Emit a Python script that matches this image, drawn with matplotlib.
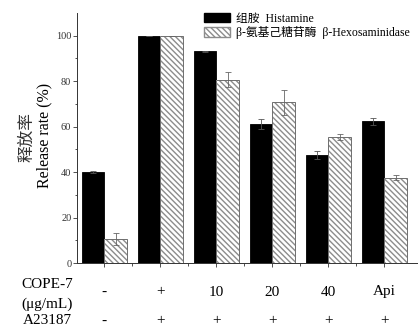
import matplotlib.pyplot as plt
import numpy as np

# data
groups = ["-", "+", "10", "20", "40", "Api"]
a23187 = ["-", "+", "+", "+", "+", "+"]
histamine = [40.0, 100.0, 93.1, 61.1, 47.6, 62.4]
histamine_err = [0.3, 0.0, 0.3, 2.3, 1.8, 1.5]
hexosaminidase = [10.5, 100.0, 80.6, 70.6, 55.4, 37.6]
hexosaminidase_err = [2.5, 0.0, 3.3, 5.3, 1.2, 1.3]

serif = ['Liberation Serif', 'DejaVu Serif']
cjk = ['Liberation Serif', 'Noto Sans CJK SC', 'DejaVu Sans']

fig = plt.figure(figsize=(4.18, 3.30), dpi=100)
ax = fig.add_axes([0.184, 0.203, 0.816, 0.758])

x = np.arange(len(groups))
w = 0.4

ax.bar(x - w / 2, histamine, w, color='black', edgecolor='black', linewidth=0.6, zorder=2)
ax.errorbar(x - w / 2, histamine, yerr=histamine_err, fmt='none', ecolor='#555555',
            elinewidth=0.6, capsize=2, capthick=0.6, zorder=3)

# hatched bars: hatch pass then outline pass
ax.bar(x + w / 2, hexosaminidase, w, color='white', edgecolor='#8c8c8c', hatch='\\\\\\\\\\\\',
       linewidth=0, zorder=2)
ax.bar(x + w / 2, hexosaminidase, w, fill=False, edgecolor='#6e6e6e', linewidth=0.7, zorder=2)
ax.errorbar(x + w / 2, hexosaminidase, yerr=hexosaminidase_err, fmt='none', ecolor='#666666',
            elinewidth=0.6, capsize=2, capthick=0.6, zorder=3)

ax.set_xlim(-0.49, 5.6)
ax.set_ylim(0, 110)
ax.set_yticks([0, 20, 40, 60, 80, 100])
ax.set_yticks(np.arange(10, 110, 20), minor=True)
ax.set_xticks(x)
ax.set_xticks(x[:-1] + 0.5, minor=True)
ax.set_xticklabels([])
for lab in ax.get_yticklabels():
    lab.set_fontfamily(serif)
    lab.set_fontsize(7.5)
    lab.set_color('#333333')
ax.tick_params(axis='both', which='major', length=3, width=0.6, pad=1, direction='out',
               color='#333333')
ax.tick_params(axis='both', which='minor', length=1.8, width=0.6, direction='out',
               color='#333333')

for s in ['top', 'right']:
    ax.spines[s].set_visible(False)
for s in ['left', 'bottom']:
    ax.spines[s].set_linewidth(0.7)
    ax.spines[s].set_color('#333333')

# y labels: Chinese and English side by side
fig.text(27 / 418, 1 - 137 / 330, "释放率", rotation=90, ha='center', va='center',
         fontsize=12, family=['Noto Sans CJK SC', 'DejaVu Sans'], color='#333333')
fig.text(44 / 418, 1 - 135 / 330, "Release rate (%)", rotation=90, ha='center', va='center',
         fontsize=11.5, family=serif)

# legend
leg_handles = [
    plt.Rectangle((0, 0), 1, 1, facecolor='black', edgecolor='black'),
    plt.Rectangle((0, 0), 1, 1, facecolor='white', edgecolor='#8c8c8c', hatch='\\\\\\\\\\\\'),
]
leg_labels = ["组胺  Histamine", "β-氨基己糖苷酶  β-Hexosaminidase"]
leg = ax.legend(leg_handles, leg_labels, loc='upper left', bbox_to_anchor=(0.36, 1.02),
                frameon=False, fontsize=8.5, handlelength=2.2, handleheight=0.9,
                handletextpad=0.5, labelspacing=0.15, borderaxespad=0)
for t in leg.get_texts():
    t.set_fontfamily(cjk)

# category rows under the axis
trans = ax.get_xaxis_transform()
fig.text(47 / 418, 1 - 285 / 330, "COPE-7", ha='center', va='center', fontsize=11, family=serif)
fig.text(47 / 418, 1 - 304 / 330, "(μg/mL)", ha='center', va='center', fontsize=11, family=serif)
fig.text(47 / 418, 1 - 321 / 330, "A23187", ha='center', va='center', fontsize=11, family=serif)
y1 = ax.transAxes.inverted().transform(fig.transFigure.transform((0, 1 - 292 / 330)))[1]
y2 = ax.transAxes.inverted().transform(fig.transFigure.transform((0, 1 - 321 / 330)))[1]
for xi, g, a in zip(x, groups, a23187):
    ax.text(xi, y1, g, transform=trans, ha='center', va='center', fontsize=11, family=serif,
            clip_on=False)
    ax.text(xi, y2, a, transform=trans, ha='center', va='center', fontsize=11, family=serif,
            clip_on=False)

fig.savefig("out.png", dpi=100)
